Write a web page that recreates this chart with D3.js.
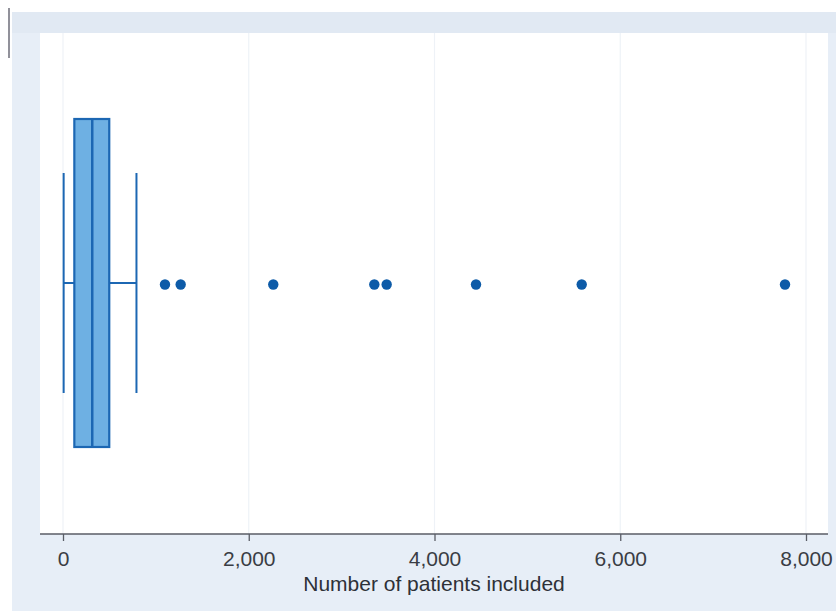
<!DOCTYPE html>
<html>
<head>
<meta charset="utf-8">
<script src="https://cdn.jsdelivr.net/npm/d3@7"></script>
<style>
html,body{margin:0;padding:0;background:#fff;}
svg{display:block;}
</style>
</head>
<body>
<div id="chart"></div>
<script>
// Data
const boxStats = [{q1: 122, median: 315, q3: 498, lowerWhisker: 7, upperWhisker: 791}];
const outliers = [1098, 1267, 2264, 3352, 3485, 4447, 5585, 7774];
const tickValues = [0, 2000, 4000, 6000, 8000];
const axisTitle = "Number of patients included";

const W = 836, H = 611;
const svg = d3.select("#chart").append("svg").attr("width", W).attr("height", H);

// scanned page background
svg.append("rect").attr("x", 0).attr("y", 0).attr("width", W).attr("height", H).attr("fill", "#ffffff");
svg.append("rect").attr("x", 12).attr("y", 12).attr("width", W - 12).attr("height", H - 12).attr("fill", "#e7eef7");
svg.append("rect").attr("x", 12).attr("y", 12).attr("width", W - 12).attr("height", 21).attr("fill", "#e1e9f3");
svg.append("line").attr("x1", 9).attr("x2", 9).attr("y1", 8).attr("y2", 58).attr("stroke", "#6d6d78").attr("stroke-width", 1.5);

// plot area
const plot = {left: 40, right: 828, top: 33, bottom: 534};
svg.append("rect").attr("x", plot.left).attr("y", plot.top)
  .attr("width", plot.right - plot.left).attr("height", plot.bottom - plot.top).attr("fill", "#ffffff");

const x = d3.scaleLinear().domain([0, 8000]).range([63, 806]);

// gridlines
svg.append("g").selectAll("line").data(tickValues).join("line")
  .attr("x1", d => x(d)).attr("x2", d => x(d))
  .attr("y1", plot.top).attr("y2", plot.bottom)
  .attr("stroke", "#eef2f7").attr("stroke-width", 1.2);

const cy = 283;
const boxHalf = 164, capHalf = 110;
const stroke = "#1c67b3", fill = "#6eb0e3";

const g = svg.append("g");
boxStats.forEach(b => {
  // whiskers
  g.append("line").attr("x1", x(b.lowerWhisker)).attr("x2", x(b.q1)).attr("y1", cy).attr("y2", cy)
    .attr("stroke", stroke).attr("stroke-width", 2);
  g.append("line").attr("x1", x(b.q3)).attr("x2", x(b.upperWhisker)).attr("y1", cy).attr("y2", cy)
    .attr("stroke", stroke).attr("stroke-width", 2);
  [b.lowerWhisker, b.upperWhisker].forEach(v => {
    g.append("line").attr("x1", x(v)).attr("x2", x(v)).attr("y1", cy - capHalf).attr("y2", cy + capHalf)
      .attr("stroke", stroke).attr("stroke-width", 2);
  });
  // box
  g.append("rect").attr("x", x(b.q1)).attr("y", cy - boxHalf)
    .attr("width", x(b.q3) - x(b.q1)).attr("height", 2 * boxHalf)
    .attr("fill", fill).attr("stroke", stroke).attr("stroke-width", 2.2);
  g.append("line").attr("x1", x(b.median)).attr("x2", x(b.median))
    .attr("y1", cy - boxHalf).attr("y2", cy + boxHalf)
    .attr("stroke", stroke).attr("stroke-width", 2.5);
});

// outliers
svg.append("g").selectAll("circle").data(outliers).join("circle")
  .attr("cx", d => x(d)).attr("cy", cy + 1.5).attr("r", 5.2).attr("fill", "#0d5ba8");

// axis
const axis = svg.append("g").attr("transform", `translate(0,${plot.bottom})`)
  .call(d3.axisBottom(x).tickValues(tickValues).tickFormat(d3.format(",")).tickSize(7).tickPadding(10));
axis.select(".domain").remove();
axis.insert("line", ":first-child").attr("x1", plot.left).attr("x2", plot.right).attr("y1", 0).attr("y2", 0)
  .attr("stroke", "#5a5d66").attr("stroke-width", 1.5);
axis.selectAll(".tick line").attr("stroke", "#5a5d66").attr("stroke-width", 1.3);
axis.selectAll(".tick text").attr("fill", "#3a3d44")
  .style("font-family", "'Liberation Sans', Arial, sans-serif").style("font-size", "21px");

svg.append("text").attr("x", 434).attr("y", 591).attr("text-anchor", "middle")
  .attr("fill", "#2e3138")
  .style("font-family", "'Liberation Sans', Arial, sans-serif").style("font-size", "21px")
  .text(axisTitle);
</script>
</body>
</html>
